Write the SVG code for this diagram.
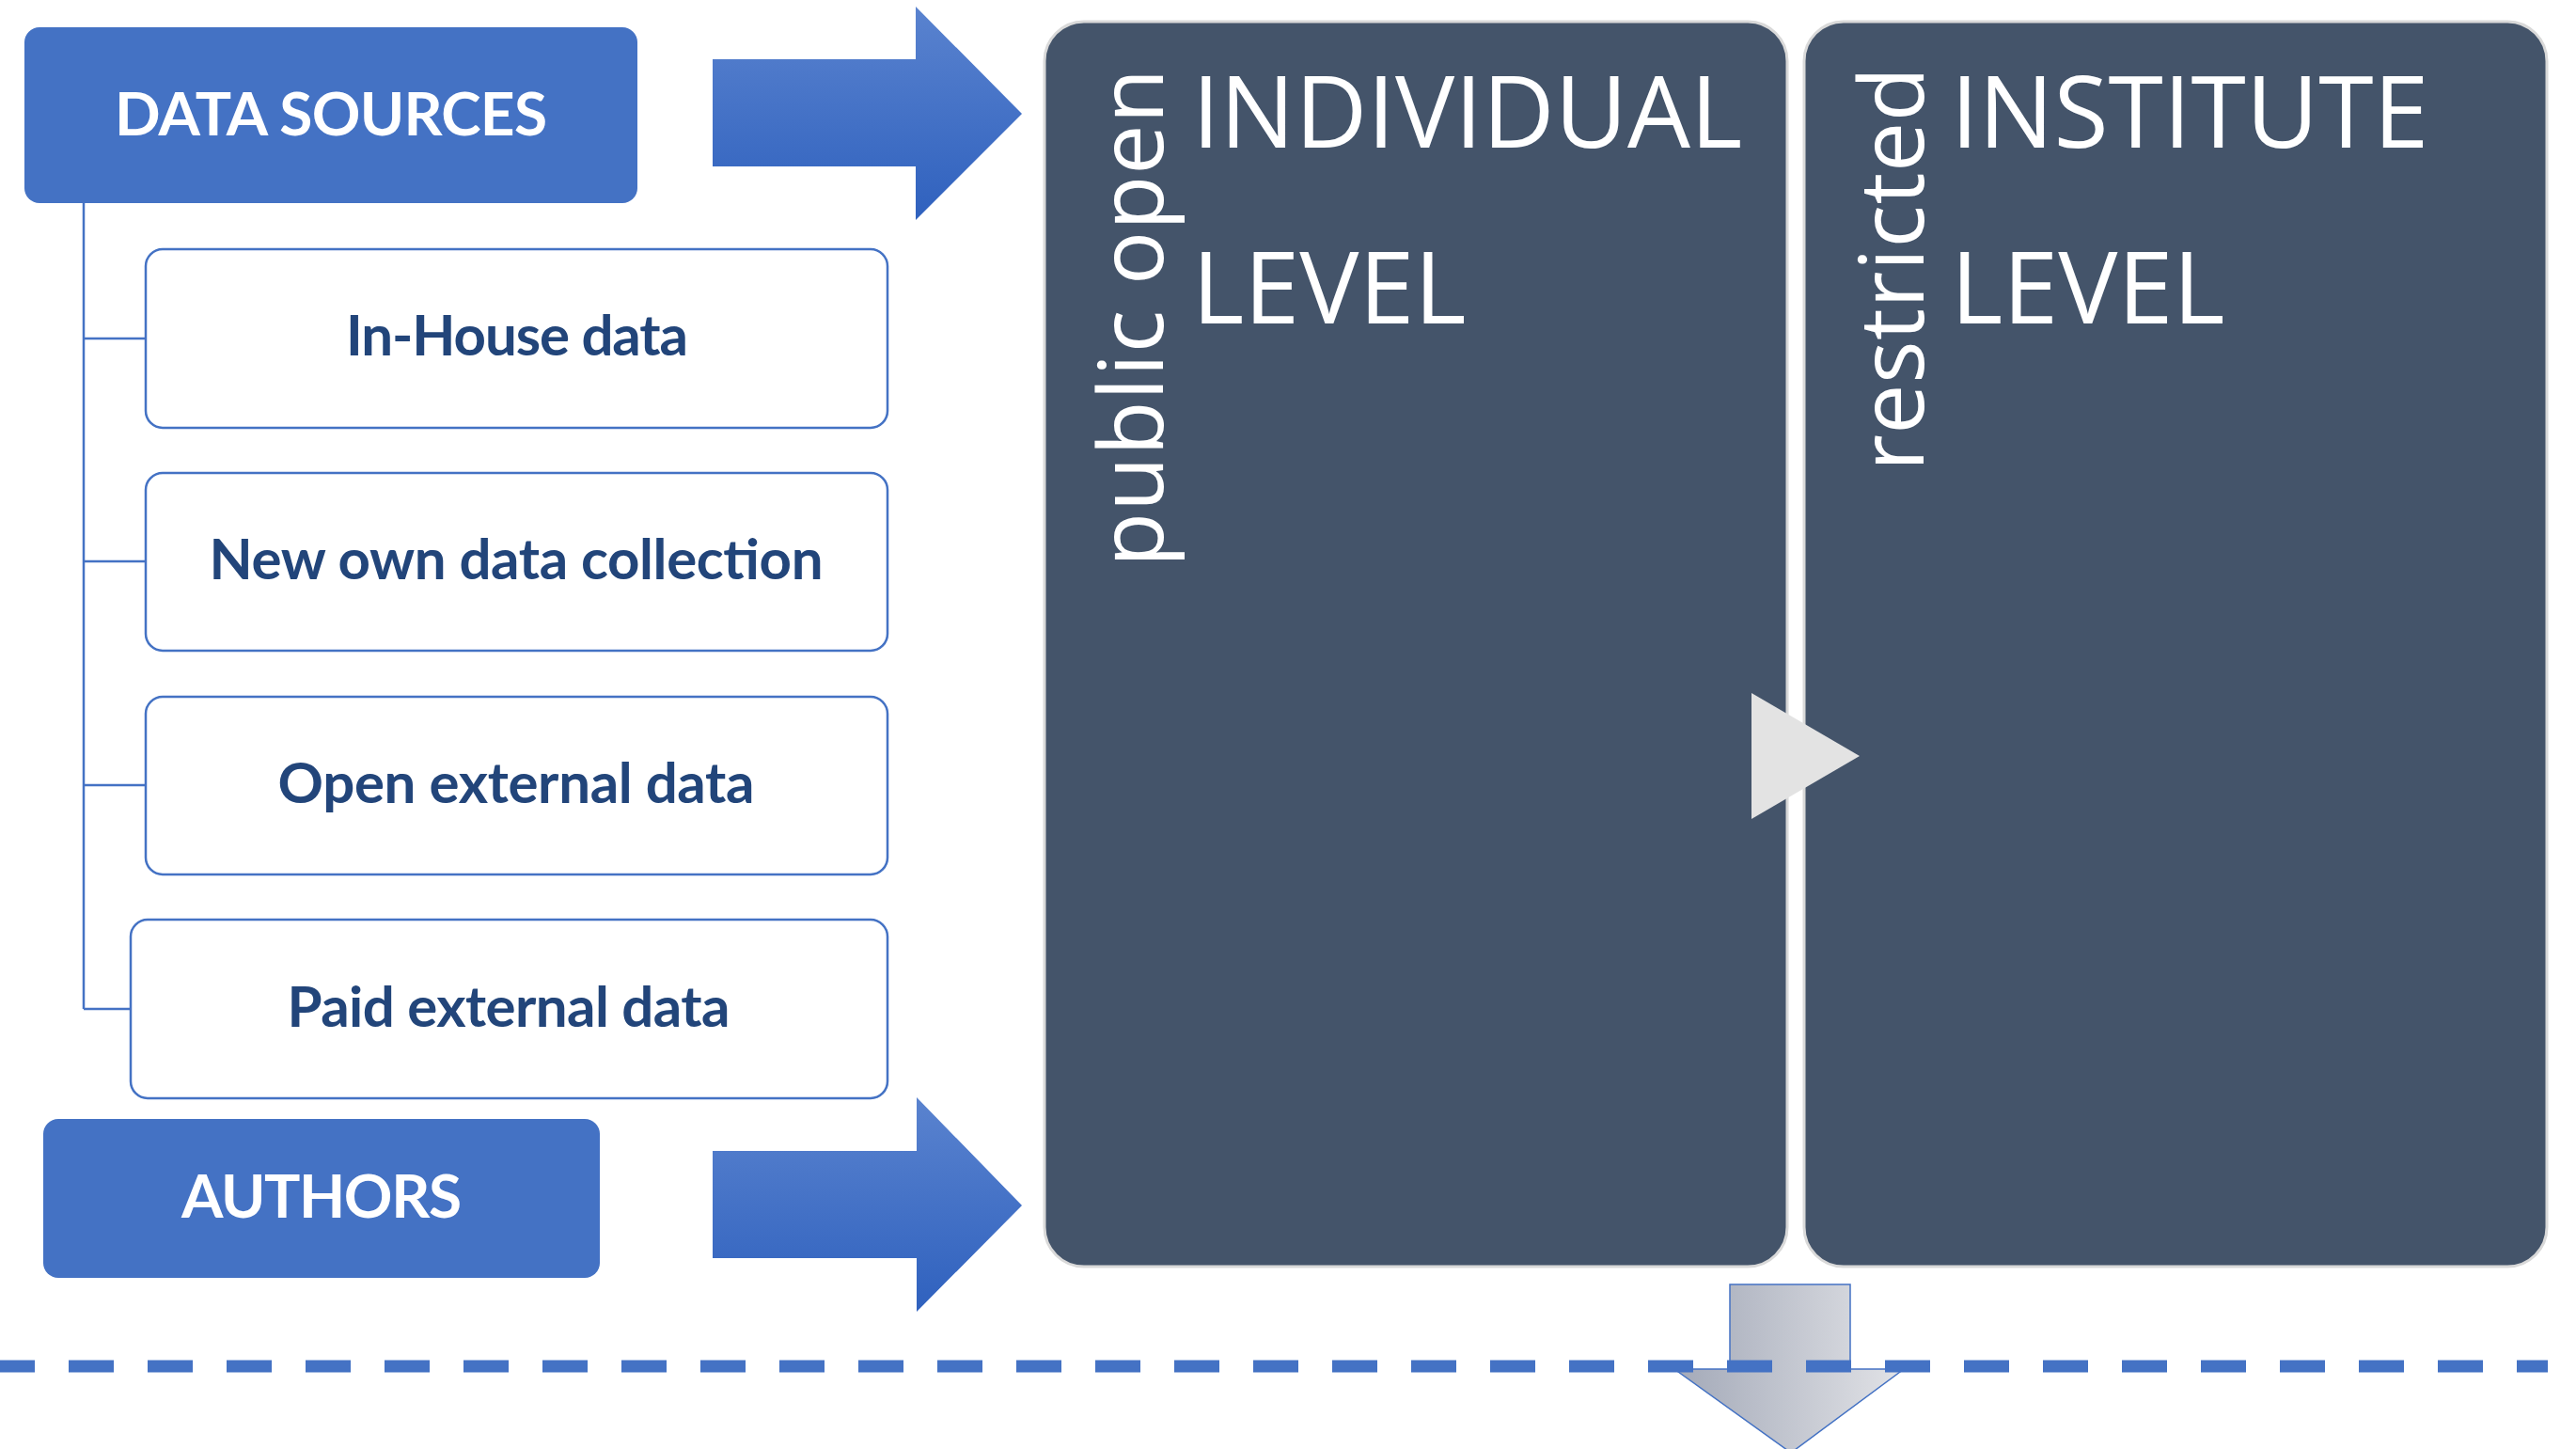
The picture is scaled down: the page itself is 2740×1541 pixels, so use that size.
<svg xmlns="http://www.w3.org/2000/svg" width="2740" height="1541" viewBox="0 0 2740 1541">
<defs>
<linearGradient id="blueArrow" x1="0" y1="0" x2="0" y2="1">
<stop offset="0" stop-color="#5A83CF"/>
<stop offset="1" stop-color="#2F61BE"/>
</linearGradient>
<linearGradient id="grayArrow" x1="0" y1="0" x2="1" y2="0">
<stop offset="0" stop-color="#A3A9B8"/>
<stop offset="1" stop-color="#E2E3E7"/>
</linearGradient>
<style>
.hdr{fill:#4472C4}
.hdrtxt{fill:#FFFFFF;font-family:Lato,"Open Sans","Liberation Sans",sans-serif;font-weight:700;font-size:64px;text-anchor:middle}
.item{fill:#FFFFFF;stroke:#4472C4;stroke-width:2.5}
.itemtxt{fill:#22457A;font-family:Lato,"Open Sans","Liberation Sans",sans-serif;font-weight:700;font-size:60px;text-anchor:middle}
.panel{fill:#44546A;stroke:#D9D9D9;stroke-width:3}
.ptxt{fill:#FFFFFF;font-family:"Open Sans","Noto Sans","Liberation Sans",sans-serif;font-size:106px}
.rtxt{fill:#FFFFFF;font-family:"Open Sans","Noto Sans","Liberation Sans",sans-serif;font-size:95px}
.conn{fill:none;stroke:#4472C4;stroke-width:2.5}
</style>
</defs>
<rect width="2740" height="1541" fill="#FFFFFF"/>

<g id="panel-individual">
<rect class="panel" x="1111" y="23" width="790" height="1324" rx="42" ry="42"/>
<text class="rtxt" transform="translate(1237,603) rotate(-90)" textLength="530">public open</text>
<text class="ptxt" x="1268" y="157">INDIVIDUAL</text>
<text class="ptxt" x="1268" y="344">LEVEL</text>
</g>

<g id="panel-institute">
<rect class="panel" x="1919" y="23" width="790" height="1324" rx="42" ry="42"/>
<text class="rtxt" transform="translate(2046,501) rotate(-90)" textLength="430">restricted</text>
<text class="ptxt" x="2075" y="157">INSTITUTE</text>
<text class="ptxt" x="2075" y="344">LEVEL</text>
</g>

<g id="data-sources">
<rect class="hdr" x="26" y="29" width="652" height="187" rx="16" ry="16"/>
<text class="hdrtxt" x="352" y="144" textLength="460">DATA SOURCES</text>
</g>

<g id="in-house">
<rect class="item" x="155" y="265" width="789" height="190" rx="18" ry="18"/>
<text class="itemtxt" x="550" y="378" textLength="364">In-House data</text>
</g>

<g id="new-own">
<rect class="item" x="155" y="503" width="789" height="189" rx="18" ry="18"/>
<text class="itemtxt" x="549" y="616" textLength="653">New own data collection</text>
</g>

<g id="open-external">
<rect class="item" x="155" y="741" width="789" height="189" rx="18" ry="18"/>
<text class="itemtxt" x="549" y="854" textLength="507">Open external data</text>
</g>

<g id="paid-external">
<rect class="item" x="139" y="978" width="805" height="190" rx="18" ry="18"/>
<text class="itemtxt" x="541" y="1092" textLength="471">Paid external data</text>
</g>

<g id="authors">
<rect class="hdr" x="46" y="1190" width="592" height="169" rx="16" ry="16"/>
<text class="hdrtxt" x="342" y="1295" textLength="298">AUTHORS</text>
</g>

<g id="connectors">
<path class="conn" d="M89,216 V1073 M89,360 H155 M89,597 H155 M89,835 H155 M89,1073 H139"/>
<polygon id="arrow-sources" fill="url(#blueArrow)" points="758,63 974,63 974,7 1087,121 974,234 974,177 758,177"/>
<polygon id="arrow-authors" fill="url(#blueArrow)" points="758,1224 975,1224 975,1167 1087,1282 975,1395 975,1338 758,1338"/>
<polygon id="arrow-between" fill="#E3E3E3" points="1863,737 1978,804 1863,871"/>
<polygon id="arrow-down" fill="url(#grayArrow)" stroke="#4472C4" stroke-width="1.5" points="1840,1366 1968,1366 1968,1456 2025,1456 1905,1545 1781,1456 1840,1456"/>
<line id="divider" x1="0" y1="1453" x2="2710" y2="1453" stroke="#4472C4" stroke-width="13" stroke-dasharray="48 36" stroke-dashoffset="11"/>
</g>
</svg>
